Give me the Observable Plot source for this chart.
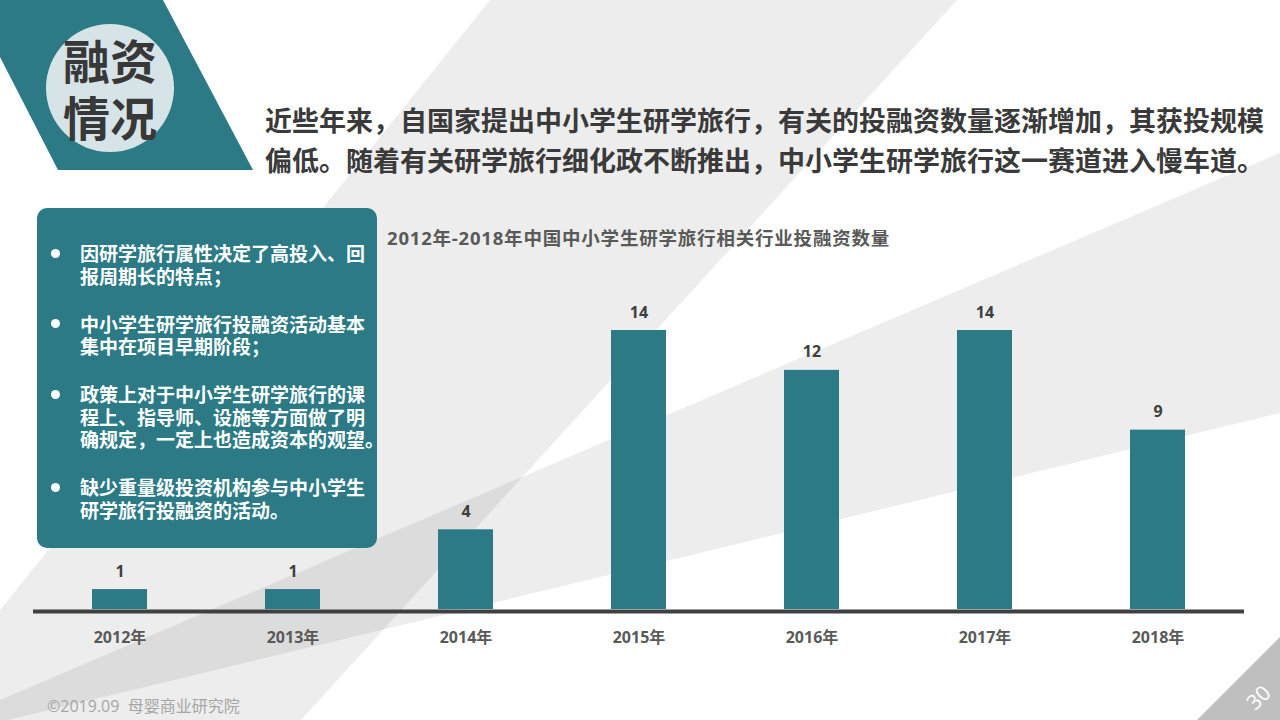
<!DOCTYPE html>
<html><head><meta charset="utf-8">
<script src="https://cdn.jsdelivr.net/npm/d3@7"></script>
<script src="https://cdn.jsdelivr.net/npm/@observablehq/plot@0.6"></script>
<style>
html,body{margin:0;padding:0;background:#fff;}
#slide{position:relative;width:1280px;height:720px;overflow:hidden;background:#fff;font-family:"Noto Sans CJK SC","Noto Sans",sans-serif;}
.abs{position:absolute;white-space:pre;}
.ln{display:block;overflow:visible;white-space:pre;}
#box{position:absolute;left:37px;top:208px;width:340px;height:340px;background:#2b7a85;border-radius:10px;box-sizing:border-box;padding:34px 0 0 43px;color:#fff;font-weight:bold;font-size:19px;line-height:22.5px;}
#box .item{position:relative;margin-bottom:25.5px;white-space:nowrap;}
#box .ln{height:22.5px;}
#box .dot{position:absolute;left:-29.5px;top:6.8px;width:9px;height:9px;border-radius:50%;background:#fff;}
</style></head><body>
<div id="slide"></div>
<script>
const years = ["2012","2013","2014","2015","2016","2017","2018"];
const counts = [1, 1, 4, 14, 12, 14, 9];
const yearSuffix = "年";
const headerTitle = ["融资", "情况"];
const headline = [
  "近些年来，自国家提出中小学生研学旅行，有关的投融资数量逐渐增加，其获投规模",
  "偏低。随着有关研学旅行细化政不断推出，中小学生研学旅行这一赛道进入慢车道。"
];
const chartTitle = "2012年-2018年中国中小学生研学旅行相关行业投融资数量";
const bullets = [
  ["因研学旅行属性决定了高投入、回", "报周期长的特点；"],
  ["中小学生研学旅行投融资活动基本", "集中在项目早期阶段；"],
  ["政策上对于中小学生研学旅行的课", "程上、指导师、设施等方面做了明", "确规定，一定上也造成资本的观望。"],
  ["缺少重量级投资机构参与中小学生", "研学旅行投融资的活动。"]
];
const footer = "©2019.09  母婴商业研究院";
const pageNumber = "30";

const teal = "#2b7a85";
const slide = d3.select("#slide");

// decorative background
const bg = slide.append("svg").attr("width", 1280).attr("height", 720)
  .style("position", "absolute").style("left", 0).style("top", 0);
bg.append("polygon").attr("points", "490,0 957,0 301,720 0,720 0,610").attr("fill", "#000").attr("fill-opacity", 0.07);
bg.append("polygon").attr("points", "0,700 1280,153 1280,413 0,722").attr("fill", "#000").attr("fill-opacity", 0.07);
bg.append("polygon").attr("points", "0,0 163,0 253,170 58,170 0,57").attr("fill", teal);
bg.append("circle").attr("cx", 110).attr("cy", 88).attr("r", 64).attr("fill", "#d6e4e7");
bg.append("polygon").attr("points", "1280,637 1280,720 1197,720").attr("fill", "#bfbfbf");
bg.append("text").attr("transform", "translate(1258,697) rotate(-45)")
  .attr("text-anchor", "middle").attr("dominant-baseline", "central")
  .attr("fill", "#fff").attr("font-size", 21).attr("font-family", "'Open Sans',sans-serif")
  .text(pageNumber);

// chart
const data = years.map((y, i) => ({year: y, value: counts[i]}));
const chart = Plot.plot({
  width: 1280,
  height: 720,
  marginLeft: 33,
  marginRight: 36,
  marginTop: 330,
  marginBottom: 111,
  style: {background: "transparent", fontFamily: "'Open Sans','Noto Sans CJK SC',sans-serif", overflow: "visible"},
  x: {domain: years, paddingInner: 0.682, paddingOuter: 0.341, round: false, axis: null},
  y: {domain: [0, 14], axis: null},
  marks: [
    Plot.barY(data, {x: "year", y: "value", fill: teal}),
    Plot.ruleY([0], {stroke: "#404040", strokeWidth: 4, dy: 2}),
    Plot.text(data, {x: "year", y: "value", text: d => String(d.value), dy: -18, fontSize: 16, fontWeight: "bold", fill: "#404040"}),
    Plot.axisX({tickSize: 0, tickPadding: 22, fontSize: 16, fontWeight: "bold", fill: "#595959", tickFormat: d => d + yearSuffix, label: null})
  ]
});
d3.select(chart).style("position", "absolute").style("left", "0px").style("top", "0px");
slide.node().appendChild(chart);

// header title in circle
const head = slide.append("div").attr("class", "abs")
  .style("left", "30px").style("top", "30px").style("width", "160px")
  .style("text-align", "center").style("font-size", "47px").style("font-weight", "bold")
  .style("line-height", "57px").style("color", "#383838");
headerTitle.forEach(t => head.append("div").attr("class", "ln").style("height", "57px").text(t));

// headline
const hl = slide.append("div").attr("class", "abs")
  .style("left", "265px").style("top", "100px")
  .style("font-size", "27px").style("font-weight", "bold").style("line-height", "40px").style("color", "#3a3a3a");
headline.forEach(t => hl.append("div").attr("class", "ln").style("height", "40px").text(t));

// chart title
slide.append("div").attr("class", "abs")
  .style("left", "387px").style("top", "226px")
  .style("font-family", "'Open Sans','Noto Sans CJK SC',sans-serif")
  .style("font-size", "18.5px").style("letter-spacing", "0.8px")
  .style("font-weight", "bold").style("line-height", "24px").style("color", "#595959")
  .text(chartTitle);

// bullet box
const box = slide.append("div").attr("id", "box");
bullets.forEach(lines => {
  const it = box.append("div").attr("class", "item");
  it.append("span").attr("class", "dot");
  lines.forEach(t => it.append("div").attr("class", "ln").text(t));
});

// footer
slide.append("div").attr("class", "abs")
  .style("left", "47px").style("top", "695px")
  .style("font-family", "'Open Sans','Noto Sans CJK SC',sans-serif")
  .style("font-size", "16px").style("line-height", "22px").style("color", "#a6a6a6")
  .text(footer);
</script>
</body></html>
